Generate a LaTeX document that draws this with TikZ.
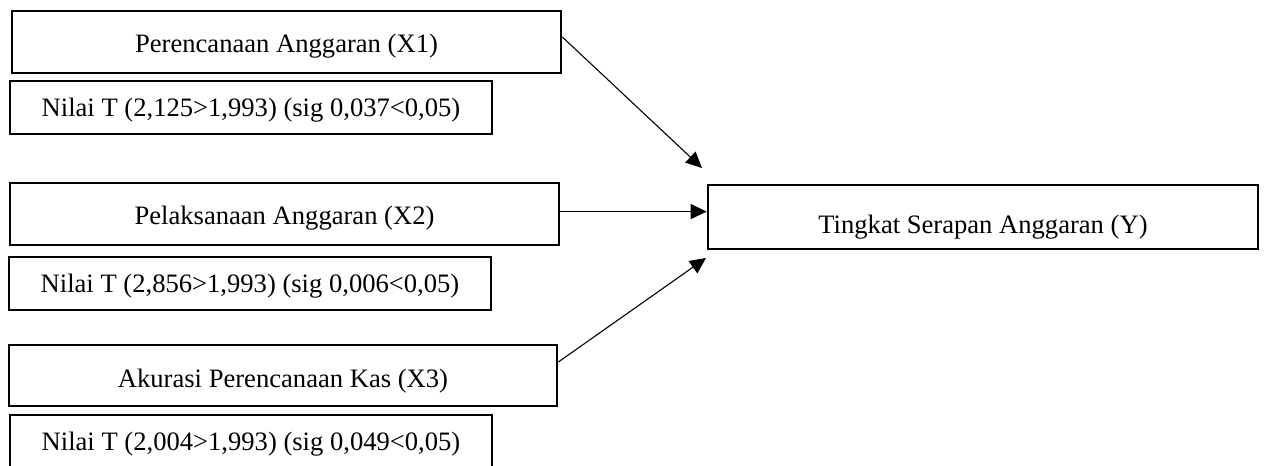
\documentclass[tikz,border=0pt]{standalone}
\usepackage{fontspec}
\setmainfont{Liberation Serif}
\usetikzlibrary{arrows.meta}
\begin{document}
\begin{tikzpicture}[x=0.5pt,y=-0.5pt,
  box/.style={draw, line width=1.35pt, inner sep=0pt,
    font=\fontsize{13.3pt}{16pt}\selectfont, text depth=0pt},
  arr/.style={line width=0.55pt, -{Triangle[length=8pt,width=7.5pt]}}]
\useasboundingbox (0,0) rectangle (1265,466);
\node[box, minimum width=274.5pt, minimum height=31pt, text height=11pt] (X1) at (286.5,42) {Perencanaan Anggaran (X1)};
\node[box, minimum width=241pt, minimum height=26.5pt, text height=8.5pt] (N1) at (251,107.5) {Nilai T (2,125>1,993) (sig 0,037<0,05)};
\node[box, minimum width=274.5pt, minimum height=31pt, text height=10pt] (X2) at (284.5,214) {Pelaksanaan Anggaran (X2)};
\node[box, minimum width=241pt, minimum height=26.5pt, text height=8.5pt] (N2) at (250,283.5) {Nilai T (2,856>1,993) (sig 0,006<0,05)};
\node[box, minimum width=274pt, minimum height=30.5pt, text height=12pt] (X3) at (283,375.5) {Akurasi Perencanaan Kas (X3)};
\node[box, minimum width=241pt, minimum height=26.5pt, text height=8.5pt] (N3) at (251,441.5) {Nilai T (2,004>1,993) (sig 0,049<0,05)};
\node[box, minimum width=275pt, minimum height=32pt, text height=16pt] (Y) at (983,217) {Tingkat Serapan Anggaran (Y)};
\coordinate (t1) at (702,168);
\coordinate (t3) at (706,258);
\draw[arr] ([yshift=2.5pt]X1.east) -- (t1);
\draw[arr] ([yshift=1.2pt]X2.east) coordinate (s2) -- (s2 -| Y.west);
\draw[arr] ([yshift=6.75pt]X3.east) -- (t3);
\end{tikzpicture}
\end{document}
